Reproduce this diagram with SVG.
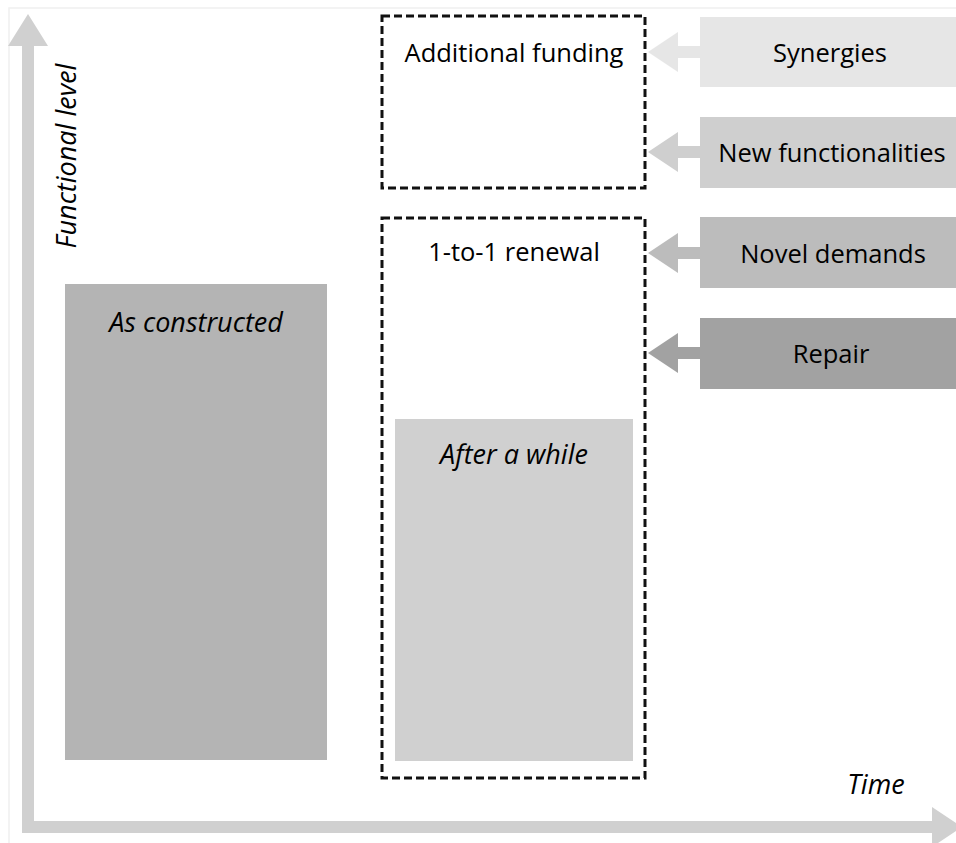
<svg xmlns="http://www.w3.org/2000/svg" width="956" height="843" viewBox="0 0 956 843">
<style>
.t{font-family:"Open Sans","Noto Sans","Liberation Sans",sans-serif;font-size:25.5px;fill:#000;text-anchor:middle}
.i{font-style:italic;font-size:27px}
.dash{fill:none;stroke:#111;stroke-width:3;stroke-dasharray:8 4}
</style>
<rect x="0" y="0" width="956" height="843" fill="#fff"/>
<rect x="9" y="8" width="960" height="850" fill="none" stroke="#f0f0f0" stroke-width="1.5"/>
<g id="axes">
<path d="M22 833 V46 H8 L28 14 L48 46 H34 V821 H932 V807 L962 827 L932 847 V833 Z" fill="#d0d0d0"/>
<text class="t i" transform="translate(76,156) rotate(-90)">Functional level</text>
<text class="t i" x="876" y="794">Time</text>
</g>
<g id="as-constructed">
<rect x="65" y="284" width="262" height="476" fill="#b4b4b4"/>
<text class="t i" x="196" y="332">As constructed</text>
</g>
<g id="additional-funding">
<rect class="dash" x="382" y="16" width="263" height="172"/>
<text class="t" x="514" y="62">Additional funding</text>
</g>
<g id="renewal">
<rect class="dash" x="382" y="218" width="263" height="560"/>
<text class="t" x="514" y="261">1-to-1 renewal</text>
</g>
<g id="after-a-while">
<rect x="395" y="419" width="238" height="342" fill="#d0d0d0"/>
<text class="t i" x="514" y="464">After a while</text>
</g>
<g id="synergies">
<rect x="700" y="17" width="256" height="70" fill="#e6e6e6"/>
<text class="t" x="830" y="62">Synergies</text>
</g>
<g id="new-functionalities">
<rect x="700" y="117" width="256" height="71" fill="#cfcfcf"/>
<text class="t" x="832" y="162">New functionalities</text>
</g>
<g id="novel-demands">
<rect x="700" y="217" width="256" height="71" fill="#bcbcbc"/>
<text class="t" x="833" y="263">Novel demands</text>
</g>
<g id="repair">
<rect x="700" y="318" width="256" height="71" fill="#a2a2a2"/>
<text class="t" x="831" y="363">Repair</text>
</g>
<g id="connectors">
<path d="M700 46 H678 V32 L648 52 L678 72 V58 H700 Z" fill="#e6e6e6"/>
<path d="M700 146 H678 V132 L648 152 L678 172 V158 H700 Z" fill="#cfcfcf"/>
<path d="M700 247 H678 V233 L648 253 L678 273 V259 H700 Z" fill="#bcbcbc"/>
<path d="M700 347 H678 V333 L648 353 L678 373 V359 H700 Z" fill="#a2a2a2"/>
</g>
</svg>
